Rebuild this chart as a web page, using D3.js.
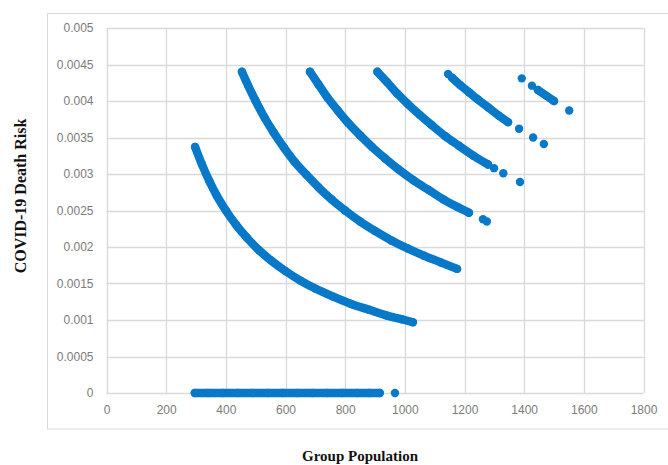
<!DOCTYPE html>
<html>
<head>
<meta charset="utf-8">
<script src="https://cdn.jsdelivr.net/npm/d3@7/dist/d3.min.js"></script>
<style>
  html, body { margin: 0; padding: 0; background: #fff; }
  svg { display: block; }
</style>
</head>
<body>
<svg id="chart" width="668" height="465"></svg>
<script>
// ---- Data ----
const xTicks = [0, 200, 400, 600, 800, 1000, 1200, 1400, 1600, 1800];
const yTicks = [0, 0.0005, 0.001, 0.0015, 0.002, 0.0025, 0.003, 0.0035, 0.004, 0.0045, 0.005];
const yTickLabels = ["0", "0.0005", "0.001", "0.0015", "0.002", "0.0025", "0.003", "0.0035", "0.004", "0.0045", "0.005"];

// dense runs of points (appear as continuous bands)
const zeroDense = [[296,0],[340,0],[390,0],[440,0],[490,0],[540,0],[590,0],[640,0],[690,0],[740,0],[790,0],[840,0],[880,0],[916,0]];
const zeroSparse = [[967,0]];

const group1Dense = [[297,0.00337],[320,0.00313],[345,0.0029],[370,0.0027],[400,0.0025],[435,0.0023],[470,0.00213],[510,0.00196],[550,0.00182],[600,0.00167],[650,0.00154],[700,0.00143],[760,0.00132],[820,0.00122],[880,0.00114],[940,0.00106],[990,0.00101],[1027,0.00097]];
const group2Dense = [[454,0.0044],[475,0.00421],[500,0.004],[530,0.00377],[560,0.00357],[595,0.00336],[630,0.00317],[670,0.00299],[710,0.00282],[755,0.00265],[800,0.0025],[850,0.00235],[900,0.00222],[955,0.00209],[1010,0.00198],[1065,0.00188],[1120,0.00179],[1175,0.0017]];
const group3Dense = [[682,0.0044],[710,0.00423],[740,0.00405],[775,0.00387],[810,0.0037],[850,0.00353],[890,0.00337],[935,0.00321],[980,0.00306],[1030,0.00291],[1080,0.00278],[1130,0.00265],[1175,0.00255],[1215,0.00247]];
const group3Sparse = [[1262,0.00238],[1275,0.00235]];
const group4Dense = [[908,0.0044],[940,0.00426],[975,0.0041],[1010,0.00396],[1050,0.00381],[1090,0.00367],[1135,0.00352],[1180,0.00339],[1230,0.00325],[1279,0.00313]];
const group4Sparse = [[1299,0.00308],[1330,0.00301],[1386,0.00289]];
const group5Dense = [[1158,0.00432],[1185,0.00422],[1215,0.00412],[1245,0.00402],[1280,0.00391],[1315,0.0038],[1346,0.00371]];
const group5Sparse = [[1145,0.00437],[1383,0.00362],[1430,0.0035],[1466,0.00341]];
const group6Dense = [[1446,0.00415],[1475,0.00407],[1500,0.004]];
const group6Sparse = [[1392,0.00431],[1426,0.00421],[1551,0.00387]];

const denseRuns = [zeroDense, group1Dense, group2Dense, group3Dense, group4Dense, group5Dense, group6Dense];
const sparsePoints = [].concat(zeroSparse, group3Sparse, group4Sparse, group5Sparse, group6Sparse);

// ---- Layout ----
const svg = d3.select("#chart");
const plot = { left: 106.5, right: 643.5, top: 28, bottom: 393 };
const blue = "#0879c9";
const gridColor = "#d9d9d9";
const markerR = 4.2;

const x = d3.scaleLinear().domain([0, 1800]).range([plot.left, plot.right]);
const y = d3.scaleLinear().domain([0, 0.005]).range([plot.bottom, plot.top]);

// outer chart border
svg.append("rect")
  .attr("x", 47.5).attr("y", 13.5)
  .attr("width", 640).attr("height", 415.5)
  .attr("fill", "none").attr("stroke", gridColor).attr("stroke-width", 1);

// gridlines
svg.append("g").selectAll("line.v").data(xTicks).join("line")
  .attr("x1", d => Math.round(x(d)) + 0.5).attr("x2", d => Math.round(x(d)) + 0.5)
  .attr("y1", plot.top).attr("y2", plot.bottom)
  .attr("stroke", gridColor).attr("stroke-width", 1.3);
svg.append("g").selectAll("line.h").data(yTicks).join("line")
  .attr("y1", d => Math.round(y(d)) + 0.5).attr("y2", d => Math.round(y(d)) + 0.5)
  .attr("x1", plot.left).attr("x2", plot.right)
  .attr("stroke", gridColor).attr("stroke-width", 1.3);

// axes (labels only, via d3 axis generators)
const xAxis = d3.axisBottom(x).tickValues(xTicks).tickSize(0).tickPadding(12).tickFormat(d3.format("d"));
const yAxis = d3.axisLeft(y).tickValues(yTicks).tickSize(0).tickPadding(13)
  .tickFormat((d, i) => yTickLabels[i]);

const gx = svg.append("g").attr("transform", `translate(0,${plot.bottom})`).call(xAxis);
const gy = svg.append("g").attr("transform", `translate(${plot.left},0)`).call(yAxis);
[gx, gy].forEach(g => {
  g.select(".domain").remove();
  g.selectAll("text")
    .attr("fill", "#7b7b7b")
    .style("font-family", "'Liberation Sans', Arial, sans-serif")
    .style("font-size", "12px");
});

// data marks
const line = d3.line().x(d => x(d[0])).y(d => y(d[1])).curve(d3.curveMonotoneX);
svg.append("g").selectAll("path").data(denseRuns).join("path")
  .attr("d", line)
  .attr("fill", "none")
  .attr("stroke", blue)
  .attr("stroke-width", markerR * 2)
  .attr("stroke-linecap", "round")
  .attr("stroke-linejoin", "round");

svg.append("g").selectAll("circle")
  .data([].concat(...denseRuns, sparsePoints)).join("circle")
  .attr("cx", d => x(d[0])).attr("cy", d => y(d[1]))
  .attr("r", markerR).attr("fill", blue);

// axis titles
svg.append("text")
  .attr("x", 360).attr("y", 461)
  .attr("text-anchor", "middle")
  .style("font-family", "'Liberation Serif', 'Times New Roman', serif")
  .style("font-weight", "bold").style("font-size", "15px")
  .attr("fill", "#111")
  .text("Group Population");

svg.append("text")
  .attr("transform", "translate(26,196) rotate(-90)")
  .attr("text-anchor", "middle")
  .style("font-family", "'Liberation Serif', 'Times New Roman', serif")
  .style("font-weight", "bold").style("font-size", "16px")
  .attr("fill", "#111")
  .text("COVID-19 Death Risk");
</script>
</body>
</html>
